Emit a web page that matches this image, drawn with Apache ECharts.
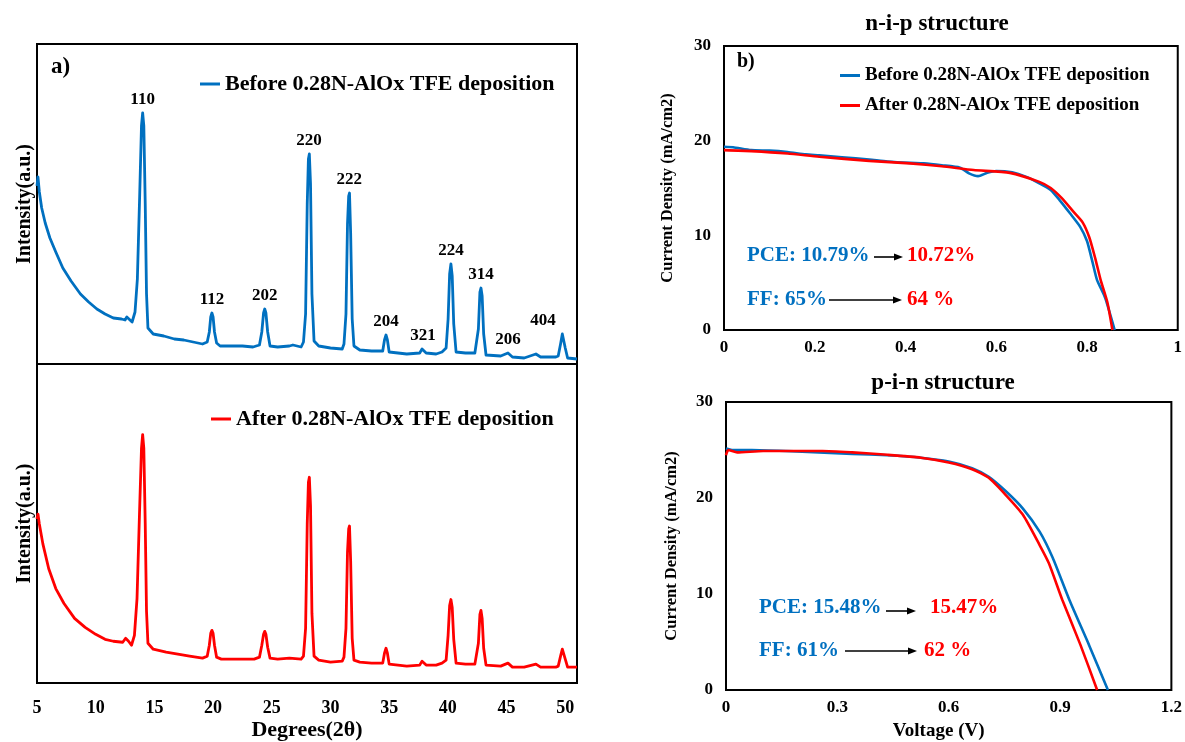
<!DOCTYPE html>
<html>
<head>
<meta charset="utf-8">
<script src="https://cdn.jsdelivr.net/npm/echarts@6/dist/echarts.min.js"></script>
<style>
  html, body { margin: 0; padding: 0; background: #fff; }
  #chart { width: 1185px; height: 742px; }
</style>
</head>
<body>
<div id="chart"></div>
<script>
// XRD pattern before TFE deposition  [2theta, intensity a.u.]
const xrdBefore = [
  [5.0, 178], [5.08, 187], [5.2, 172], [5.4, 156], [5.7, 141], [6.1, 126], [6.6, 112], [7.2, 96],
  [7.9, 83], [8.7, 70], [9.4, 62], [10.1, 55], [10.8, 50], [11.5, 46], [12.2, 45], [12.5, 44],
  [12.65, 47], [12.8, 45], [13.1, 42], [13.35, 52], [13.55, 85], [13.75, 170], [13.9, 238], [14.0, 251],
  [14.1, 238], [14.22, 160], [14.33, 70], [14.45, 36], [14.9, 30], [15.8, 28], [16.7, 25], [17.5, 24],
  [18.3, 22], [19.1, 20], [19.5, 22], [19.68, 32], [19.8, 47], [19.9, 51], [20.0, 47], [20.12, 32],
  [20.3, 21], [20.6, 18], [21.5, 18], [22.5, 18], [23.4, 17], [23.95, 19], [24.15, 32], [24.3, 51],
  [24.4, 55], [24.5, 51], [24.65, 32], [24.85, 18], [25.5, 17], [26.5, 18], [26.8, 19], [27.5, 17],
  [27.7, 22], [27.88, 50], [28.02, 160], [28.12, 205], [28.2, 210], [28.3, 180], [28.42, 70], [28.6, 23],
  [29.0, 18], [30.0, 16], [31.0, 15], [31.15, 20], [31.32, 50], [31.45, 140], [31.55, 168], [31.62, 171],
  [31.72, 130], [31.85, 45], [32.0, 18], [32.5, 14], [33.5, 13], [34.45, 13], [34.6, 24], [34.73, 29],
  [34.85, 24], [35.0, 12], [36.5, 10], [37.6, 11], [37.8, 15], [37.95, 15], [38.15, 11], [39.0, 10],
  [39.5, 12], [39.85, 16], [40.02, 45], [40.15, 90], [40.26, 100], [40.37, 88], [40.5, 40], [40.7, 12],
  [41.5, 11], [42.3, 11], [42.45, 13], [42.6, 35], [42.73, 72], [42.82, 76], [42.92, 68], [43.05, 30],
  [43.25, 9], [44.5, 8], [45.12, 11], [45.5, 7], [46.5, 6], [47.5, 10], [47.9, 7], [49.2, 7],
  [49.4, 8], [49.6, 20], [49.75, 30], [49.85, 29], [50.0, 16], [50.2, 6], [51.0, 5]
];

// XRD pattern after TFE deposition
const xrdAfter = [
  [5.0, 165], [5.08, 170], [5.2, 160], [5.5, 140], [6.0, 115], [6.6, 95], [7.3, 80], [8.2, 65],
  [9.1, 56], [10.0, 49], [10.8, 44], [11.5, 42], [12.3, 41], [12.55, 45], [12.8, 42], [13.05, 38],
  [13.3, 48], [13.52, 85], [13.73, 170], [13.9, 236], [14.0, 250], [14.1, 236], [14.22, 160], [14.33, 72],
  [14.45, 40], [14.9, 34], [16.0, 31], [17.0, 29], [18.0, 27], [19.1, 25], [19.5, 27], [19.68, 38],
  [19.8, 50], [19.9, 53], [20.0, 50], [20.12, 38], [20.3, 26], [20.7, 24], [22.0, 24], [23.5, 24],
  [23.95, 26], [24.15, 38], [24.3, 49], [24.4, 52], [24.5, 49], [24.65, 36], [24.85, 25], [25.5, 24],
  [26.5, 25], [27.5, 24], [27.7, 27], [27.88, 55], [28.02, 160], [28.12, 202], [28.2, 207], [28.3, 178],
  [28.42, 70], [28.6, 27], [29.0, 23], [30.0, 21], [31.0, 22], [31.15, 26], [31.32, 55], [31.45, 132],
  [31.55, 155], [31.62, 158], [31.72, 122], [31.85, 45], [32.0, 23], [32.5, 21], [33.5, 20], [34.45, 20],
  [34.6, 30], [34.73, 35], [34.85, 30], [35.0, 19], [36.5, 17], [37.6, 18], [37.8, 22], [37.95, 22],
  [38.15, 18], [39.0, 18], [39.5, 20], [39.85, 23], [40.02, 48], [40.15, 78], [40.26, 84], [40.37, 76],
  [40.5, 44], [40.7, 20], [41.5, 19], [42.3, 19], [42.45, 21], [42.6, 40], [42.73, 69], [42.82, 73],
  [42.92, 65], [43.05, 35], [43.25, 18], [44.5, 17], [45.12, 20], [45.5, 16], [46.5, 16], [47.5, 19],
  [47.9, 16], [49.2, 16], [49.4, 17], [49.6, 27], [49.75, 34], [49.85, 33], [50.0, 24], [50.2, 16],
  [51.0, 16]
];

// peak indexing (hkl), positions and heights on the "before" pattern
const peakHkl = ['110', '112', '202', '220', '222', '204', '321', '224', '314', '206', '404'];
const peakDeg = [14.0, 19.9, 24.4, 28.17, 31.6, 34.73, 37.88, 40.26, 42.82, 45.12, 49.8];
const peakTop = [251, 51, 55, 210, 171, 29, 15, 100, 76, 11, 30];

// J-V curves, n-i-p structure  [V, mA/cm2]
const nipBefore = [
  [0, 19.35], [0.02, 19.3], [0.06, 19.0], [0.1, 18.95], [0.14, 18.8], [0.18, 18.55], [0.21, 18.45],
  [0.26, 18.25], [0.32, 18.0], [0.36, 17.8], [0.41, 17.65], [0.44, 17.6], [0.48, 17.4], [0.52, 17.15],
  [0.54, 16.55], [0.56, 16.25], [0.58, 16.6], [0.6, 16.8], [0.635, 16.65], [0.665, 16.2], [0.695, 15.5],
  [0.72, 14.8], [0.74, 13.7], [0.763, 12.3], [0.785, 10.9], [0.8, 9.4], [0.812, 7.2], [0.822, 5.3],
  [0.84, 3.4], [0.861, 0]
];
const nipAfter = [
  [0, 19.0], [0.06, 18.9], [0.14, 18.65], [0.21, 18.3], [0.32, 17.87], [0.41, 17.6], [0.48, 17.3],
  [0.55, 16.9], [0.63, 16.6], [0.695, 15.65], [0.72, 15.0], [0.745, 13.9], [0.77, 12.5], [0.79, 11.4],
  [0.805, 9.8], [0.818, 7.6], [0.83, 5.3], [0.845, 2.9], [0.856, 0]
];

// J-V curves, p-i-n structure
const pinBefore = [
  [0, 25.15], [0.016, 25.0], [0.07, 25.0], [0.16, 24.9], [0.25, 24.75], [0.34, 24.6], [0.435, 24.45],
  [0.525, 24.2], [0.6, 23.8], [0.663, 23.1], [0.708, 22.2], [0.754, 20.7], [0.8, 18.9], [0.845, 16.5],
  [0.88, 13.8], [0.925, 9.4], [0.978, 4.7], [1.029, 0]
];
const pinAfter = [
  [0, 24.45], [0.006, 25.0], [0.03, 24.75], [0.1, 24.9], [0.18, 24.9], [0.26, 24.9], [0.34, 24.75],
  [0.435, 24.5], [0.525, 24.2], [0.6, 23.7], [0.663, 23.0], [0.708, 22.1], [0.754, 20.3], [0.8, 18.25],
  [0.845, 15.1], [0.87, 13.2], [0.906, 9.4], [0.955, 4.7], [1.0, 0]
];

const BEFORE = 'Before 0.28N-AlOx TFE deposition';
const AFTER = 'After 0.28N-AlOx TFE deposition';
const FONT = 'Liberation Serif, Times New Roman, serif';
const BLUE = '#0070C0';
const RED = '#FF0000';

const chart = echarts.init(document.getElementById('chart'));

function txt(x, y, text, size, color, align) {
  return {
    type: 'text', x: x, y: y,
    style: { text: text, font: 'bold ' + size + 'px ' + FONT, fill: color,
             textAlign: align || 'left', textVerticalAlign: 'middle' }
  };
}
function arrow(x1, x2, y) {
  return [
    { type: 'line', shape: { x1: x1, y1: y, x2: x2 - 6, y2: y }, style: { stroke: '#000', lineWidth: 1.6 } },
    { type: 'polygon', shape: { points: [[x2, y], [x2 - 9, y - 3.5], [x2 - 9, y + 3.5]] }, style: { fill: '#000' } }
  ];
}

const tickFont = { fontFamily: FONT, fontWeight: 'bold', color: '#000' };
const noLine = { show: false };

function valueAxis(o) {
  return Object.assign({
    type: 'value', splitLine: noLine, axisTick: noLine, axisLine: noLine
  }, o);
}
function nameStyle(size, extra) {
  return Object.assign({ fontFamily: FONT, fontWeight: 'bold', fontSize: size, color: '#000' }, extra || {});
}
function xrdLine(name, data, color, xi) {
  return { name: name, type: 'line', xAxisIndex: xi, yAxisIndex: xi, data: data, showSymbol: false,
           color: color, lineStyle: { width: 2.8, color: color, join: 'round' } };
}
function jvLine(name, data, color, xi) {
  return { name: name, type: 'line', xAxisIndex: xi, yAxisIndex: xi, data: data, showSymbol: false,
           smooth: 0.2, color: color, lineStyle: { width: 2.6, color: color } };
}

const option = {
  backgroundColor: '#fff',
  animation: false,
  title: [
    { text: 'n-i-p structure', left: 932, top: 8, textAlign: 'center',
      textStyle: nameStyle(23) },
    { text: 'p-i-n structure', left: 938, top: 367, textAlign: 'center',
      textStyle: nameStyle(23) }
  ],
  legend: [
    { data: [BEFORE], left: 195, top: 67, icon: 'rect', itemWidth: 20, itemHeight: 3,
      textStyle: nameStyle(22, { lineHeight: 24 }) },
    { data: [AFTER], left: 206, top: 402, icon: 'rect', itemWidth: 20, itemHeight: 3,
      textStyle: nameStyle(22, { lineHeight: 24 }) },
    { data: [BEFORE, AFTER], left: 835, top: 60, orient: 'vertical', itemGap: 9, icon: 'rect',
      itemWidth: 20, itemHeight: 3, textStyle: nameStyle(19, { lineHeight: 21 }) }
  ],
  grid: [
    { left: 37, top: 44, width: 540, height: 320, show: true, borderColor: '#000', borderWidth: 2 },
    { left: 37, top: 364, width: 540, height: 321, show: true, borderColor: '#000', borderWidth: 2 },
    { left: 724, top: 46, width: 454, height: 284, show: true, borderColor: '#000', borderWidth: 2 },
    { left: 726, top: 402, width: 449, height: 288, show: true, borderColor: '#000', borderWidth: 2 }
  ],
  xAxis: [
    valueAxis({ gridIndex: 0, min: 5, max: 51, interval: 5, axisLabel: { show: false } }),
    valueAxis({ gridIndex: 1, min: 5, max: 51, interval: 5,
      axisLabel: Object.assign({ fontSize: 18, margin: 16, formatter: v => (v % 5 === 0 ? String(v) : '') }, tickFont),
      name: 'Degrees(2\u03B8)', nameLocation: 'middle', nameGap: 36, nameTextStyle: nameStyle(22) }),
    valueAxis({ gridIndex: 2, min: 0, max: 1, interval: 0.2,
      axisLabel: Object.assign({ fontSize: 17, margin: 9 }, tickFont) }),
    valueAxis({ gridIndex: 3, min: 0, max: 1.2, interval: 0.3,
      axisLabel: Object.assign({ fontSize: 17, margin: 9, formatter: v => String(Math.round(v * 10) / 10) }, tickFont),
      name: 'Voltage (V)', nameLocation: 'middle', nameGap: 32,
      nameTextStyle: nameStyle(19, { padding: [0, 20, 0, 0] }) })
  ],
  yAxis: [
    valueAxis({ gridIndex: 0, min: 0, max: 320, axisLabel: { show: false },
      name: 'Intensity(a.u.)', nameLocation: 'middle', nameGap: 2, nameTextStyle: nameStyle(20) }),
    valueAxis({ gridIndex: 1, min: 0, max: 321, axisLabel: { show: false },
      name: 'Intensity(a.u.)', nameLocation: 'middle', nameGap: 2, nameTextStyle: nameStyle(20) }),
    valueAxis({ gridIndex: 2, min: 0, max: 30, interval: 10,
      axisLabel: Object.assign({ fontSize: 17, margin: 13 }, tickFont),
      name: 'Current Density (mA/cm2)', nameLocation: 'middle', nameGap: 48, nameTextStyle: nameStyle(16.5) }),
    valueAxis({ gridIndex: 3, min: 0, max: 30, interval: 10,
      axisLabel: Object.assign({ fontSize: 17, margin: 13 }, tickFont),
      name: 'Current Density (mA/cm2)', nameLocation: 'middle', nameGap: 46, nameTextStyle: nameStyle(16.5) })
  ],
  series: [
    xrdLine(BEFORE, xrdBefore, BLUE, 0),
    { name: 'hkl', type: 'scatter', xAxisIndex: 0, yAxisIndex: 0, symbolSize: 0, silent: true,
      itemStyle: { opacity: 1 },
      data: peakHkl.map((h, i) => ({
        name: h, value: [peakDeg[i], peakTop[i]],
        label: h === '404' ? { offset: [-20, 0] } : undefined
      })),
      label: { show: true, position: 'top', distance: 5, formatter: '{b}', opacity: 1,
               fontFamily: FONT, fontWeight: 'bold', fontSize: 17, color: '#000' } },
    xrdLine(AFTER, xrdAfter, RED, 1),
    jvLine(BEFORE, nipBefore, BLUE, 2),
    jvLine(AFTER, nipAfter, RED, 2),
    jvLine(BEFORE, pinBefore, BLUE, 3),
    jvLine(AFTER, pinAfter, RED, 3)
  ],
  graphic: [
    txt(51, 67, 'a)', 23, '#000'),
    txt(737, 62, 'b)', 20, '#000'),
    txt(747, 256, 'PCE: 10.79%', 21, BLUE),
    ...arrow(874, 903, 257),
    txt(907, 256, '10.72%', 21, RED),
    txt(747, 300, 'FF: 65%', 21, BLUE),
    ...arrow(829, 902, 300),
    txt(907, 300, '64 %', 21, RED),
    txt(759, 608, 'PCE: 15.48%', 21, BLUE),
    ...arrow(886, 916, 611),
    txt(930, 608, '15.47%', 21, RED),
    txt(759, 651, 'FF: 61%', 21, BLUE),
    ...arrow(845, 917, 651),
    txt(924, 651, '62 %', 21, RED)
  ]
};

chart.setOption(option);
</script>
</body>
</html>
